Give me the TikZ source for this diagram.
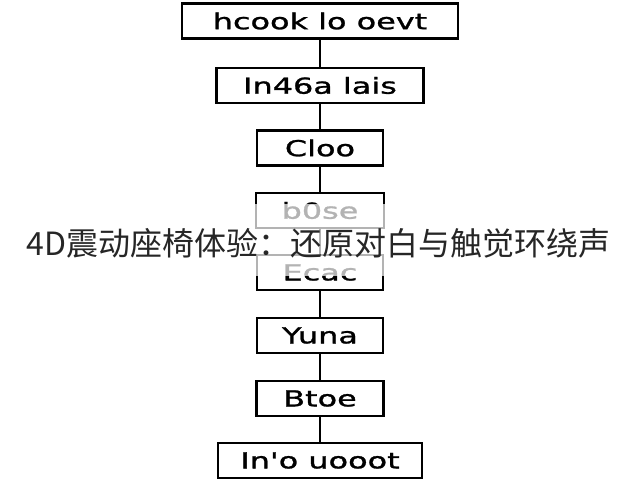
\documentclass[tikz,border=0pt]{standalone}
\usepackage{fontspec}
\newfontfamily\boxfont[FakeStretch=1.45,FakeBold=1.2]{DejaVu Sans}
\newfontfamily\cjk{Noto Sans CJK SC}
\begin{document}
\begin{tikzpicture}[x=1pt,y=-1pt,
  box/.style={draw=black, line width=2.2pt, fill=white, minimum height=35pt,
    inner sep=0pt, font=\boxfont\fontsize{22}{26}\selectfont, text=black},
  link/.style={line width=2.2pt, draw=black},
  title/.style={font=\cjk\fontsize{32}{36}\selectfont, text=black!85, inner sep=0pt}]
\useasboundingbox (0,0) rectangle (640,480);
\fill[white] (0,0) rectangle (640,480);
\node[box, minimum width=276pt] (b1) at (320,21) {hcook lo oevt};
\node[box, minimum width=207pt] (b2) at (320,85.5) {In46a lais};
\node[box, minimum width=126pt] (b3) at (320,148) {Cloo};
\node[box, minimum width=128pt] (b4) at (320,210.5) {b0se};
\node[box, minimum width=126pt] (b5) at (320,272.5) {Ecac};
\node[box, minimum width=126pt] (b6) at (320,335.5) {Yuna};
\node[box, minimum width=127pt] (b7) at (320,398.5) {Btoe};
\node[box, minimum width=204pt] (b8) at (320,460.5) {In'o uooot};
\draw[link] (b1.south) -- (b2.north);
\draw[link] (b2.south) -- (b3.north);
\draw[link] (b3.south) -- (b4.north);
\draw[link] (b4.south) -- (b5.north);
\draw[link] (b5.south) -- (b6.north);
\draw[link] (b6.south) -- (b7.north);
\draw[link] (b7.south) -- (b8.north);
\fill[white, opacity=0.7] (240,204) rectangle (400,276);
\node[title, anchor=base] (t) at (318.5,255.5) {4D震动座椅体验：还原对白与触觉环绕声};
\end{tikzpicture}
\end{document}
